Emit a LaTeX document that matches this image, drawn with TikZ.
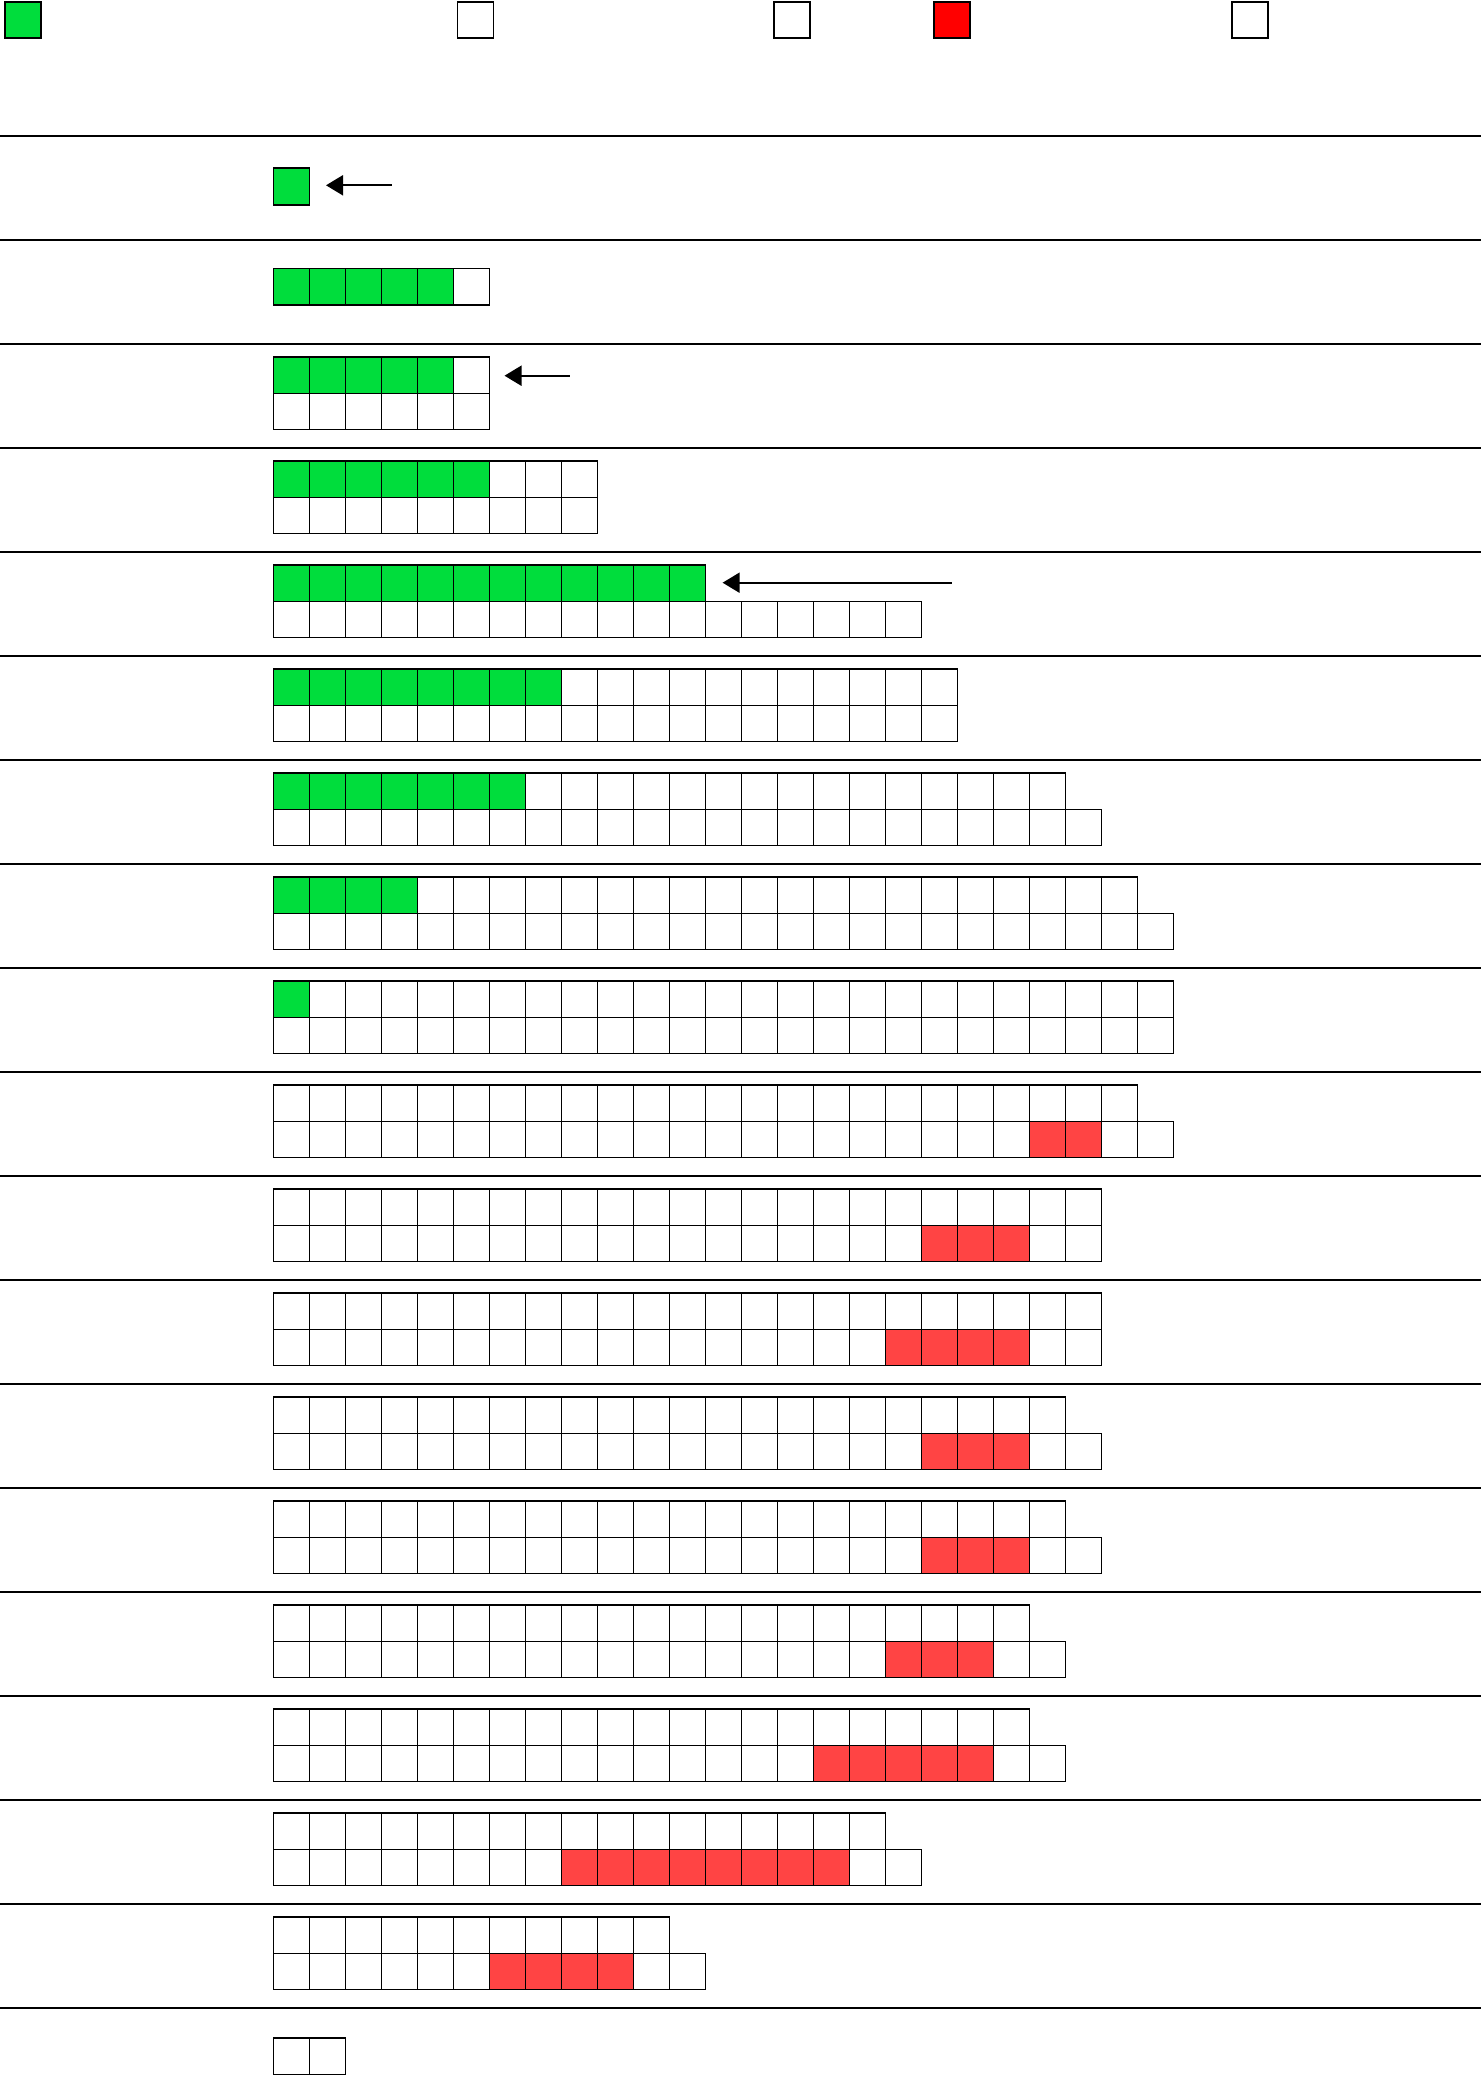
\documentclass[tikz,border=0pt]{standalone}
\usetikzlibrary{arrows.meta}
\definecolor{cellgreen}{RGB}{0,221,60}
\definecolor{cellred}{RGB}{255,68,68}
\definecolor{keyred}{RGB}{255,0,0}
\newcommand\cellw{36}
\newcommand\gridx{273.5}
\newcommand\cellh{36.3}
% one row of cells: #1 top y, #2 height, #3 count
\newcommand\cellrow[3]{%
  \foreach \i in {1,...,#3}{%
    \draw[cellline] ({\gridx+(\i-1)*\cellw},#1) rectangle ({\gridx+\i*\cellw},{#1+#2});}}
% two-row step: #1 index, #2 top count, #3 green count, #4 bottom count, #5 red start, #6 red count
\newcommand\tworow[6]{%
  \pgfmathsetmacro\rowtop{136+104*#1+13}%
  \pgfmathsetmacro\rowbot{\rowtop+\cellh}%
  \ifnum#3>0 \fill[cellgreen] (\gridx,\rowtop) rectangle ({\gridx+#3*\cellw},\rowbot);\fi
  \ifnum#6>0 \fill[cellred] ({\gridx+#5*\cellw},\rowbot) rectangle ({\gridx+(#5+#6)*\cellw},{\rowbot+\cellh});\fi
  \cellrow{\rowtop}{\cellh}{#2}%
  \cellrow{\rowbot}{\cellh}{#4}%
}
\begin{document}
\begin{tikzpicture}[x=1pt,y=-1pt,
  cellline/.style={draw=black,line width=1.6pt},
  sepline/.style={draw=black,line width=2pt},
  ptr/.style={line width=2pt,-{Triangle[length=17pt,width=20pt]}},
  keybox/.style={draw=black,line width=1.6pt}]
\useasboundingbox (0,0) rectangle (1481,2075);
% legend
\filldraw[keybox,fill=cellgreen] (5,2) rectangle (41,38);
\draw[keybox] (457.5,2) rectangle (493.5,38);
\draw[keybox] (774,2) rectangle (810,38);
\filldraw[keybox,fill=keyred] (934,2) rectangle (970,38);
\draw[keybox] (1232,2) rectangle (1268,38);
% separators
\foreach \k in {0,...,18}{\draw[sepline] (0,{136+104*\k}) -- (1481,{136+104*\k});}
% row 0
\fill[cellgreen] (\gridx,168) rectangle ({\gridx+\cellw},205);
\cellrow{168}{37}{1}
% row 1
\fill[cellgreen] (\gridx,268.5) rectangle ({\gridx+5*\cellw},305);
\cellrow{268.5}{36.5}{6}
% two-row steps
\tworow{2}{6}{5}{6}{0}{0}
\tworow{3}{9}{6}{9}{0}{0}
\tworow{4}{12}{12}{18}{0}{0}
\tworow{5}{19}{8}{19}{0}{0}
\tworow{6}{22}{7}{23}{0}{0}
\tworow{7}{24}{4}{25}{0}{0}
\tworow{8}{25}{1}{25}{0}{0}
\tworow{9}{24}{0}{25}{21}{2}
\tworow{10}{23}{0}{23}{18}{3}
\tworow{11}{23}{0}{23}{17}{4}
\tworow{12}{22}{0}{23}{18}{3}
\tworow{13}{22}{0}{23}{18}{3}
\tworow{14}{21}{0}{22}{17}{3}
\tworow{15}{21}{0}{22}{15}{5}
\tworow{16}{17}{0}{18}{8}{8}
\tworow{17}{11}{0}{12}{6}{4}
% last row
\cellrow{2038}{36.3}{2}
% pointers
\coordinate (p0s) at (391.5,185.3);
\coordinate (p0e) at (326,185.3);
\coordinate (p2s) at (569.6,375.7);
\coordinate (p2e) at (504.5,375.7);
\coordinate (p4s) at (951.5,582.7);
\coordinate (p4e) at (722.6,582.7);
\draw[ptr] (p0s) -- (p0e);
\draw[ptr] (p2s) -- (p2e);
\draw[ptr] (p4s) -- (p4e);
\end{tikzpicture}
\end{document}
